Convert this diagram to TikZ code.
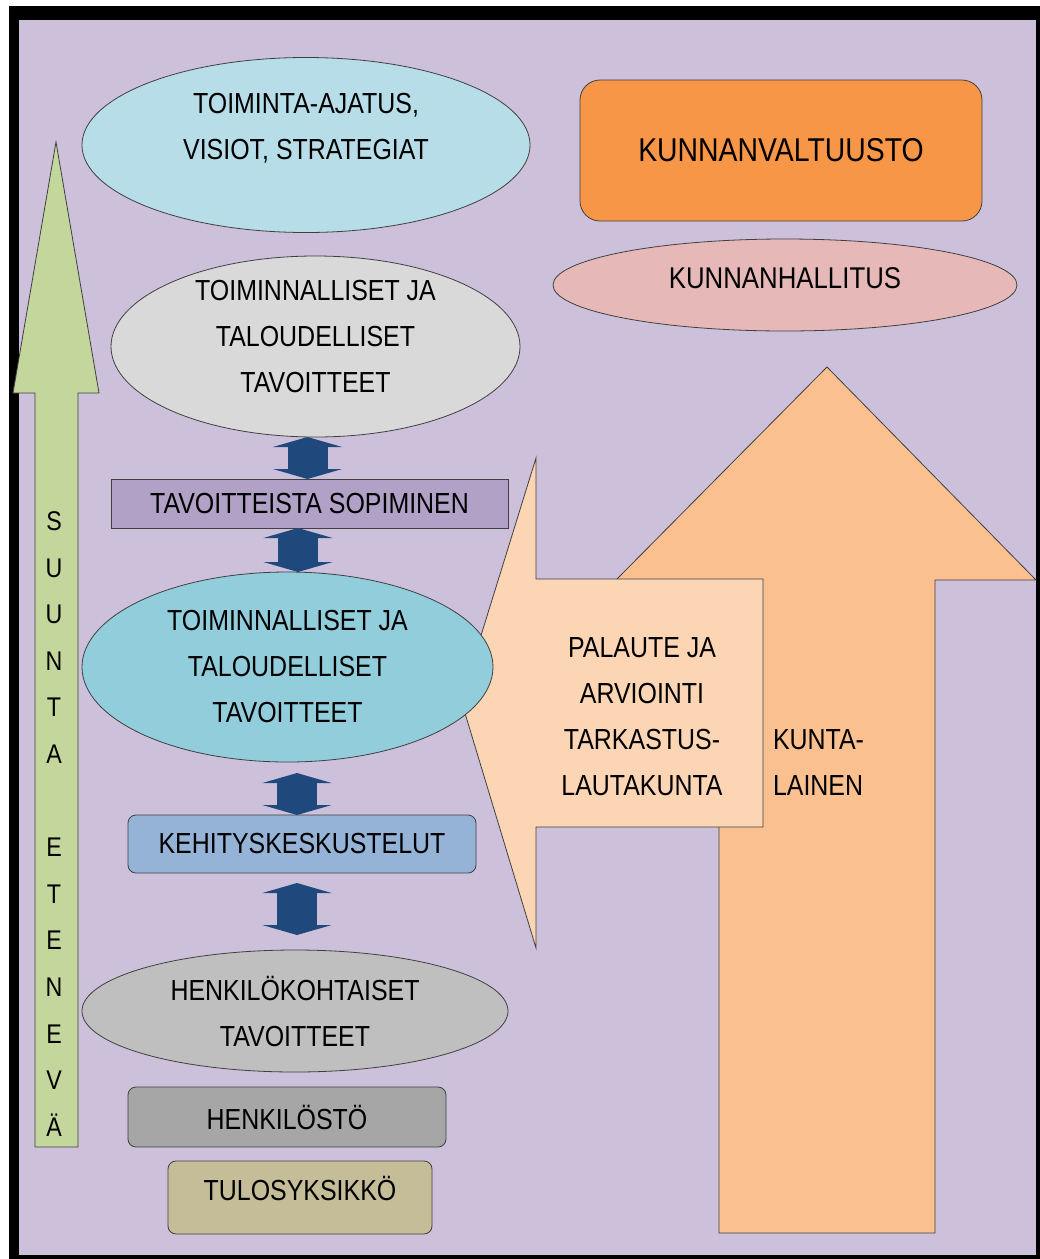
\documentclass[tikz,border=0pt]{standalone}
\usepackage{fontspec}
\setmainfont{Liberation Sans}[FakeStretch=0.86]
\usetikzlibrary{shapes.geometric, arrows.meta}

\definecolor{cBack}{HTML}{CCC0DA}
\definecolor{cGreen}{HTML}{C3D69B}
\definecolor{cVisio}{HTML}{B7DDE8}
\definecolor{cTav1}{HTML}{D9D9D9}
\definecolor{cSopim}{HTML}{B2A1C7}
\definecolor{cTav2}{HTML}{92CDDC}
\definecolor{cKehitys}{HTML}{95B3D7}
\definecolor{cHenkKoht}{HTML}{BFBFBF}
\definecolor{cHenkilosto}{HTML}{A6A6A6}
\definecolor{cTulos}{HTML}{C4BD97}
\definecolor{cValt}{HTML}{F79646}
\definecolor{cHall}{HTML}{E6B9B8}
\definecolor{cKunta}{HTML}{FAC090}
\definecolor{cPalaute}{HTML}{FCD5B5}
\definecolor{cArrow}{HTML}{1F497D}

\begin{document}
\begin{tikzpicture}[x=1pt, y=-1pt, >=latex]
        % Stili
        \tikzstyle{txt} = [font=\fontsize{29}{46}\selectfont, align=center, inner sep=0pt, outer sep=0pt]
        \tikzstyle{outline} = [draw=black!75, line width=0.8pt]
        \tikzstyle{oval} = [txt, outline, ellipse]
        \tikzstyle{box} = [txt, outline, rectangle]
        \tikzstyle{rbox} = [box, rounded corners=8pt]
        \tikzstyle{updown} = [line width=40pt, draw=cArrow, {Triangle[length=10pt, width=69pt]}-{Triangle[length=10pt, width=69pt]}]

        % --- Cornice (Frame) ---
        \useasboundingbox (0,0) rectangle (1040,1259);
        \fill[white] (0,0) rectangle (1040,1259);
        \fill[black] (9,6) rectangle (1040,1259);
        \fill[cBack] (18.5,20) rectangle (1036,1255);

        % Freccia verde a sinistra
        \filldraw[fill=cGreen, outline] (56,142) -- (99,393) -- (78,393) -- (78,1147) -- (35,1147) -- (35,393) -- (13,393) -- cycle;
        \node [txt, font=\fontsize{27}{46.6}\selectfont] (suunta) at (54,824) {S\\U\\U\\N\\T\\A\\[46.6pt]E\\T\\E\\N\\E\\V\\Ä};

        % Freccia grande (kuntalainen)
        \filldraw[fill=cKunta, outline] (827,367) -- (1036,580) -- (935,580) -- (935,1233) -- (719,1233) -- (719,582) -- (614,582) -- cycle;
        \node [txt, anchor=west, align=left] (kuntalainen) at (773,763) {KUNTA-\\LAINEN};

        % Fumetto (palaute)
        \filldraw[fill=cPalaute, outline] (536,458) -- (536,579) -- (763,579) -- (763,827) -- (536,827) -- (536,948) -- (461,700) -- cycle;
        \node [txt] (palaute) at (642,717) {PALAUTE JA\\ARVIOINTI\\TARKASTUS-\\LAUTAKUNTA};

        % --- Colonna destra ---
        \node [rbox, rounded corners=20pt, fill=cValt, minimum width=402pt, minimum height=141pt, font=\fontsize{33}{40}\selectfont] (valtuusto) at (781,150.5) {KUNNANVALTUUSTO};
        \node [oval, fill=cHall, minimum width=464pt, minimum height=92pt] (hallitus) at (785,285) {};
        \node [txt, font=\fontsize{30}{40}\selectfont] (hallitustxt) at ([yshift=7pt]hallitus.center) {KUNNANHALLITUS};

        % --- Colonna sinistra ---
        \node [oval, fill=cVisio, minimum width=448pt, minimum height=175pt] (visio) at (306,145) {};
        \node [txt] (visiotxt) at ([yshift=16.5pt]visio.center) {TOIMINTA-AJATUS,\\VISIOT, STRATEGIAT};

        \node [oval, fill=cTav1, minimum width=409pt, minimum height=181pt, below of=visio, node distance=201.5pt, xshift=9.5pt] (tavoite1) {};
        \node [txt] (tavoite1txt) at ([yshift=9.5pt]tavoite1.center) {TOIMINNALLISET JA\\TALOUDELLISET\\TAVOITTEET};

        \node [box, fill=cSopim, minimum width=397pt, minimum height=49pt, below of=tavoite1, node distance=157pt, xshift=-6pt] (sopim) {TAVOITTEISTA SOPIMINEN};

        \node [oval, fill=cTav2, minimum width=411pt, minimum height=190pt, below of=sopim, node distance=163.5pt, xshift=-22pt] (tavoite2) {TOIMINNALLISET JA\\TALOUDELLISET\\TAVOITTEET};

        \node [rbox, fill=cKehitys, minimum width=348pt, minimum height=58pt, below of=tavoite2, node distance=177pt, xshift=14.5pt] (kehitys) {KEHITYSKESKUSTELUT};

        \node [oval, fill=cHenkKoht, minimum width=426pt, minimum height=122pt, below of=kehitys, node distance=167pt, xshift=-7pt] (henkkoht) {HENKILÖKOHTAISET\\TAVOITTEET};

        \node [rbox, fill=cHenkilosto, minimum width=318pt, minimum height=60pt, below of=henkkoht, node distance=106pt, xshift=-8pt] (henkilosto) {HENKILÖSTÖ};

        \node [rbox, fill=cTulos, minimum width=264pt, minimum height=73pt, below of=henkilosto, node distance=80.5pt, xshift=13pt] (tulos) {};
        \node [txt] (tulostxt) at ([yshift=9.5pt]tulos.center) {TULOSYKSIKKÖ};

        % --- Frecce doppie ---
        \draw [updown] ([xshift=-8pt]tavoite1.south) -- ([xshift=-2pt]sopim.north);
        \draw [updown] ([xshift=-11.5pt]sopim.south) -- ([xshift=10.5pt]tavoite2.north);
        \draw [updown, shorten <=11pt] ([xshift=9.5pt]tavoite2.south) -- ([xshift=-5pt]kehitys.north);
        \draw [updown, shorten <=10pt, shorten >=15pt] ([xshift=-5pt]kehitys.south) -- ([xshift=2pt]henkkoht.north);

    \end{tikzpicture}
\end{document}
